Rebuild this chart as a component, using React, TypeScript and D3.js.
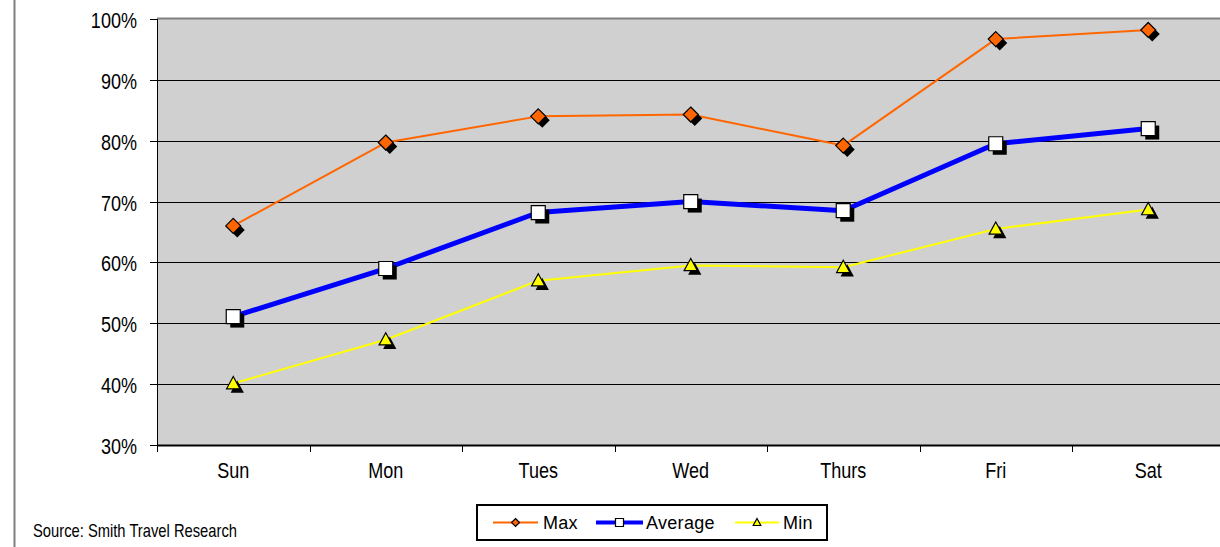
import { useEffect, useRef } from 'react';
import * as d3 from 'd3';

const days = ['Sun', 'Mon', 'Tues', 'Wed', 'Thurs', 'Fri', 'Sat'];
const maxVals = [66.0, 79.7, 84.0, 84.3, 79.2, 96.7, 98.2];
const avgVals = [51.1, 59.0, 68.2, 70.0, 68.5, 79.5, 82.0];
const minVals = [40.1, 47.3, 57.0, 59.5, 59.2, 65.5, 68.7];
const yTicks = [30, 40, 50, 60, 70, 80, 90, 100];

const W = 1220;
const H = 547;
const font = "'Liberation Sans', Arial, sans-serif";
const narrow = 0.82;

type Kind = 'diamond' | 'square' | 'triangle';

export default function App() {
  const ref = useRef<SVGSVGElement>(null);

  useEffect(() => {
    if (!ref.current) return;
    const svg = d3.select(ref.current);
    svg.selectAll('*').remove();

    const left = 157;
    const top = 19;
    const bottom = 445;
    const band = 152.5;
    const x = d3.scaleBand<string>().domain(days).range([left, left + band * days.length]);
    const y = d3.scaleLinear().domain([30, 100]).range([bottom, top]);
    const cx = (d: string) => (x(d) ?? 0) + x.bandwidth() / 2;

    // narrow text, like Arial Narrow
    const narrowText = (px: number, py: number, size: number, anchor: string, str: string) =>
      svg.append('text').attr('transform', `translate(${px},${py}) scale(${narrow},1)`)
        .attr('text-anchor', anchor).attr('font-family', font).attr('font-size', size).attr('fill', '#000').text(str);

    // outer left rule
    svg.append('line').attr('x1', 14.5).attr('x2', 14.5).attr('y1', 0).attr('y2', H)
      .attr('stroke', '#808080').attr('stroke-width', 2);

    // plot area
    svg.append('rect').attr('x', left).attr('y', top).attr('width', band * days.length).attr('height', bottom - top)
      .attr('fill', '#d0d0d0');
    svg.append('line').attr('x1', left).attr('x2', W).attr('y1', top - 0.5).attr('y2', top - 0.5)
      .attr('stroke', '#808080').attr('stroke-width', 2);

    // gridlines
    yTicks.filter((t) => t > 30 && t < 100).forEach((t) => {
      svg.append('line').attr('x1', left).attr('x2', W).attr('y1', Math.round(y(t)) + 0.5).attr('y2', Math.round(y(t)) + 0.5)
        .attr('stroke', '#000').attr('stroke-width', 1);
    });

    // y axis
    svg.append('line').attr('x1', left + 0.5).attr('x2', left + 0.5).attr('y1', top).attr('y2', bottom)
      .attr('stroke', '#000');
    yTicks.forEach((t) => {
      const yy = Math.round(y(t)) + 0.5;
      svg.append('line').attr('x1', left - 7).attr('x2', left).attr('y1', yy).attr('y2', yy).attr('stroke', '#000');
      narrowText(left - 20, yy + 8, 22, 'end', `${t}%`);
    });

    // x axis
    svg.append('line').attr('x1', left).attr('x2', W).attr('y1', bottom + 0.5).attr('y2', bottom + 0.5)
      .attr('stroke', '#000').attr('stroke-width', 2);
    days.forEach((d, i) => {
      const xx = Math.round((x(d) ?? 0) + band) + 0.5;
      if (i < days.length - 1) {
        svg.append('line').attr('x1', xx).attr('x2', xx).attr('y1', bottom).attr('y2', bottom + 7).attr('stroke', '#000');
      }
      narrowText(cx(d), bottom + 33, 22, 'middle', d);
    });
    svg.append('line').attr('x1', left + 0.5).attr('x2', left + 0.5).attr('y1', bottom).attr('y2', bottom + 7).attr('stroke', '#000');

    const markerPath = (kind: Kind, s: number) => {
      if (kind === 'diamond') return `M0,${-s}L${s},0L0,${s}L${-s},0Z`;
      if (kind === 'square') return `M${-s},${-s}H${s}V${s}H${-s}Z`;
      return `M0,${-s}L${s * 0.95},${s * 0.75}H${-s * 0.95}Z`;
    };

    const drawMarker = (g: d3.Selection<SVGGElement, unknown, null, undefined>, px: number, py: number,
      kind: Kind, s: number, fill: string, shadow: boolean) => {
      if (shadow) {
        g.append('path').attr('transform', `translate(${px + 4},${py + 4})`).attr('d', markerPath(kind, s)).attr('fill', '#000');
      }
      g.append('path').attr('transform', `translate(${px},${py})`).attr('d', markerPath(kind, s))
        .attr('fill', fill).attr('stroke', '#000').attr('stroke-width', 1.2);
    };

    const series: { name: string; values: number[]; color: string; width: number; kind: Kind; size: number; fill: string }[] = [
      { name: 'Max', values: maxVals, color: '#ff6600', width: 2, kind: 'diamond', size: 7.5, fill: '#ff6600' },
      { name: 'Average', values: avgVals, color: '#0000ff', width: 5, kind: 'square', size: 7, fill: '#ffffff' },
      { name: 'Min', values: minVals, color: '#ffff00', width: 2, kind: 'triangle', size: 7, fill: '#ffff00' },
    ];

    const line = d3.line<number>().x((_, i) => cx(days[i])).y((v) => y(v));
    series.forEach((s) => {
      svg.append('path').datum(s.values).attr('d', line).attr('fill', 'none')
        .attr('stroke', s.color).attr('stroke-width', s.width).attr('stroke-linejoin', 'round');
    });
    series.forEach((s) => {
      const g = svg.append('g');
      s.values.forEach((v, i) => drawMarker(g, cx(days[i]), y(v), s.kind, s.size, s.fill, true));
    });

    // source
    narrowText(33, 537, 18, 'start', 'Source: Smith Travel Research');

    // legend
    const lg = svg.append('g');
    lg.append('rect').attr('x', 477).attr('y', 505).attr('width', 350).attr('height', 35)
      .attr('fill', '#fff').attr('stroke', '#000').attr('stroke-width', 2);
    const items = [
      { s: series[0], x0: 493, x1: 538, tx: 543 },
      { s: series[1], x0: 596, x1: 643, tx: 646 },
      { s: series[2], x0: 735, x1: 779, tx: 783 },
    ];
    items.forEach(({ s, x0, x1, tx }) => {
      const ly = 522.5;
      lg.append('line').attr('x1', x0).attr('x2', x1).attr('y1', ly).attr('y2', ly)
        .attr('stroke', s.color).attr('stroke-width', s.width === 5 ? 4 : 2);
      drawMarker(lg, (x0 + x1) / 2, ly, s.kind, 4, s.fill, false);
      lg.append('text').attr('x', tx).attr('y', ly + 6.5).attr('font-family', font).attr('font-size', 18)
        .attr('letter-spacing', 0.3).attr('fill', '#000').text(s.name);
    });
  }, []);

  return <svg ref={ref} width={W} height={H} style={{ display: 'block', position: 'absolute', left: 0, top: 0 }} />;
}
